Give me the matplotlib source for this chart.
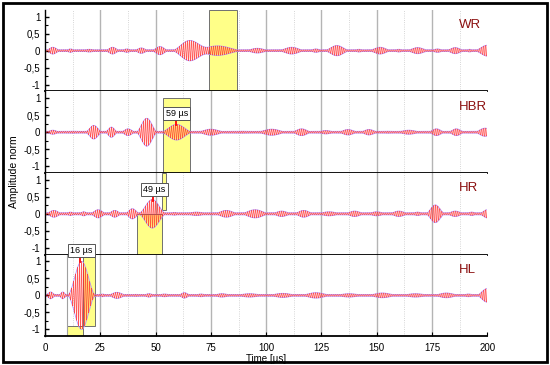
import numpy as np
import matplotlib.pyplot as plt
from matplotlib.ticker import MultipleLocator, FuncFormatter
from matplotlib.patches import Rectangle

plt.rcParams['font.family'] = ['Liberation Sans', 'DejaVu Sans']

# channel names, top to bottom
channels = ['WR', 'HBR', 'HR', 'HL']

# wave packets: (start us, end us, peak amplitude)
packets_wr = [(0, 7, 0.10), (9, 14, 0.05), (16, 24, 0.04), (27, 34, 0.10), (34, 40, 0.05),
              (40, 47, 0.08), (48, 56, 0.12), (57, 74, 0.30), (66, 90, 0.14), (90, 102, 0.07),
              (105, 118, 0.10), (119, 126, 0.05), (126, 138, 0.15), (139, 145, 0.04),
              (146, 157, 0.10), (157, 163, 0.04), (163, 174, 0.09), (174, 181, 0.05),
              (181, 190, 0.09), (190, 194, 0.04), (194, 206, 0.16)]
packets_hbr = [(0, 7, 0.06), (8, 17, 0.03), (18, 26, 0.20), (27, 33, 0.15), (34, 41, 0.10),
               (41, 51, 0.41), (52, 67, 0.23), (68, 82, 0.09), (83, 95, 0.03), (95, 110, 0.09),
               (111, 121, 0.10), (122, 132, 0.05), (132, 142, 0.08), (142, 151, 0.08),
               (152, 158, 0.03), (158, 171, 0.06), (173, 181, 0.10), (182, 190, 0.10),
               (190, 194, 0.02), (194, 204, 0.12)]
packets_hr = [(0, 8, 0.10), (9, 14, 0.05), (15, 20, 0.06), (20, 28, 0.12), (28, 35, 0.10),
              (36, 43, 0.15), (42, 55, 0.42), (55, 62, 0.04), (62, 75, 0.05), (76, 88, 0.10),
              (88, 102, 0.12), (102, 112, 0.08), (112, 122, 0.10), (122, 135, 0.06),
              (135, 145, 0.08), (145, 155, 0.06), (155, 165, 0.08), (165, 172, 0.05),
              (172, 181, 0.26), (181, 190, 0.08), (190, 196, 0.05), (196, 204, 0.12)]
packets_hl = [(0, 5, 0.10), (6, 10, 0.10), (10, 23, 1.00), (24, 28, 0.04), (28, 37, 0.09),
              (38, 44, 0.03), (44, 50, 0.05), (50, 58, 0.04), (60, 66, 0.08), (67, 74, 0.04),
              (75, 85, 0.05), (85, 100, 0.05), (100, 115, 0.06), (115, 130, 0.08),
              (130, 145, 0.05), (145, 160, 0.07), (160, 175, 0.05), (175, 188, 0.07),
              (188, 195, 0.04), (195, 205, 0.20)]
all_packets = [packets_wr, packets_hbr, packets_hr, packets_hl]

# low level signal seen between packets, per channel
noise_floor = [0.025, 0.025, 0.03, 0.025]

# picked arrival times (us) and the amplitude of the marked peak
arrival_channels = ['HBR', 'HR', 'HL']
arrival_times = [59, 49, 16]
arrival_peaks = [0.23, 0.40, 1.0]

# yellow windows per channel: (x0, x1, y0, y1)
windows = {
    'WR': [(74.2, 86.9, -1.2, 1.2)],
    'HBR': [(53.4, 65.6, -1.2, 1.02)],
    'HR': [(41.6, 52.9, -1.2, 0.0), (52.9, 54.7, 0.1, 1.2)],
    'HL': [(17.2, 22.6, -0.9, 1.2), (10.0, 17.2, -1.2, -0.9)],
}

carrier_mhz = 1.105
t = np.arange(0, 200.01, 0.02)


def envelope(packets, floor):
    env = np.zeros_like(t)
    for s, e, a in packets:
        m = (t >= s) & (t <= e)
        env[m] += a * np.sin(np.pi * (t[m] - s) / (e - s)) ** 2
    return np.maximum(env, floor)


fig, axes = plt.subplots(4, 1, sharex=True, figsize=(5.5, 3.65), dpi=100)
fig.subplots_adjust(left=0.082, right=0.886, top=0.973, bottom=0.079, hspace=0)

for i, (ax, name, packets) in enumerate(zip(axes, channels, all_packets)):
    env = envelope(packets, noise_floor[i])
    sig = env * np.sin(2 * np.pi * carrier_mhz * t)

    # vertical grid, solid every 25 us and dotted in between
    for x in np.arange(25, 200, 25):
        ax.axvline(x, color='#b4b4b4', lw=1.0, zorder=0)
    for x in np.arange(12.5, 200, 25):
        ax.axvline(x, color='#c8c8c8', lw=0.6, ls=':', zorder=0)

    for x0, x1, y0, y1 in windows[name]:
        ax.add_patch(Rectangle((x0, y0), x1 - x0, y1 - y0, facecolor='#ffff88',
                               edgecolor='#707070', lw=0.7, zorder=1))
    if name == 'HL':
        ax.axvline(10, color='#a0a0a0', lw=0.8, zorder=1)

    # envelope under the red trace so it only shows as a thin rim
    ax.plot(t, env, color='#b495ff', lw=0.6, zorder=1.5)
    ax.plot(t, -env, color='#b495ff', lw=0.6, zorder=1.5)
    ax.plot(t, sig, color='#ff2a2a', lw=0.45, alpha=0.8, zorder=2)

    ax.text(187, 0.75, name, color='#8b1010', fontsize=9.5, va='center', ha='left')

    if name in arrival_channels:
        k = arrival_channels.index(name)
        at = arrival_times[k]
        pk = arrival_peaks[k]
        lab_y = pk + 0.32
        ax.plot([at, at], [lab_y - 0.12, pk - 0.03], color='red', lw=1.3, zorder=5, clip_on=False)
        ax.text(at + 0.5, lab_y, f'{at} µs', fontsize=6.5, ha='center', va='center', zorder=6,
                clip_on=False,
                bbox=dict(boxstyle='square,pad=0.25', fc='white', ec='#555555', lw=0.7))

    ax.set_xlim(0, 200)
    ax.set_ylim(-1.2, 1.2)
    ax.yaxis.set_major_locator(MultipleLocator(0.5))
    ax.yaxis.set_minor_locator(MultipleLocator(0.25))
    ax.yaxis.set_major_formatter(FuncFormatter(lambda v, p: f'{v:g}'.replace('.', ',')))
    ax.tick_params(axis='y', which='major', direction='in', length=3, width=1, labelsize=7)
    ax.tick_params(axis='y', which='minor', direction='in', length=2, width=0.8)
    ax.spines['right'].set_visible(False)
    ax.spines['top'].set_visible(False)
    ax.spines['bottom'].set_linewidth(1.3)
    ax.spines['left'].set_linewidth(1.0)
    if i < 3:
        ax.tick_params(axis='x', which='both', length=0)

axes[-1].xaxis.set_major_locator(MultipleLocator(25))
axes[-1].tick_params(axis='x', which='major', direction='in', length=3, labelsize=7, pad=5)
axes[-1].set_xlabel('Time [µs]', fontsize=7, labelpad=1)
fig.text(0.026, 0.53, 'Amplitude norm', rotation=90, va='center', ha='center', fontsize=7.5)

# frame round the whole figure
fig.add_artist(Rectangle((0.006, 0.008), 0.988, 0.984, transform=fig.transFigure,
                         fill=False, edgecolor='black', lw=2))

fig.savefig('out.png', dpi=100)
